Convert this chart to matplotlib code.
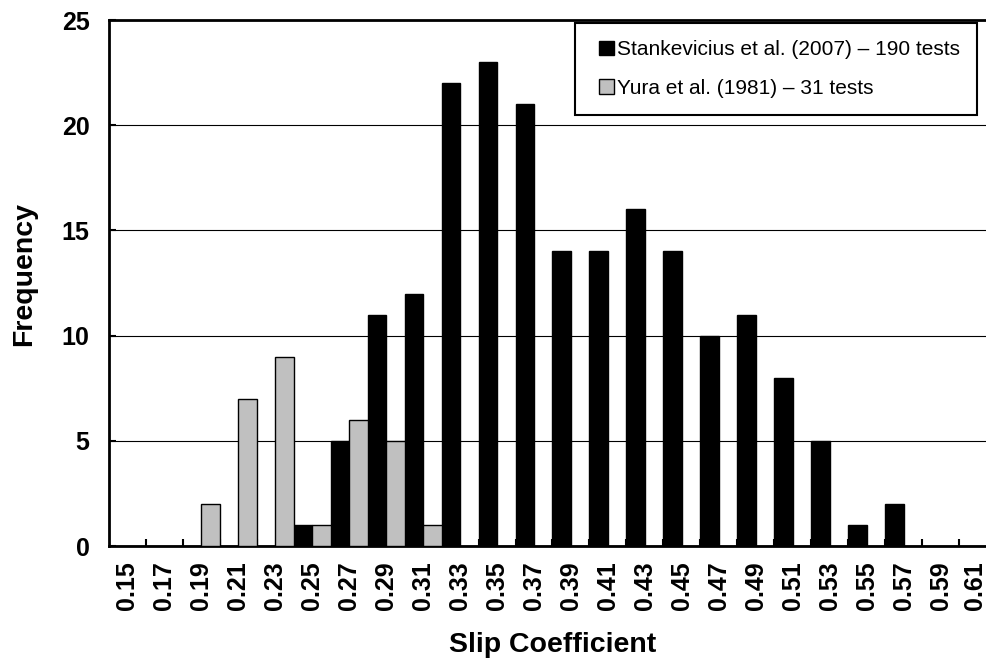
import numpy as np
import matplotlib
matplotlib.use("Agg")
import matplotlib.pyplot as plt
import matplotlib.transforms as mtransforms
from matplotlib.patches import Patch, Rectangle
from matplotlib.legend_handler import HandlerPatch

plt.rcParams.update({"font.family": ["Liberation Sans", "DejaVu Sans"]})

# slip coefficient bins
categories = ["0.15", "0.17", "0.19", "0.21", "0.23", "0.25", "0.27", "0.29",
              "0.31", "0.33", "0.35", "0.37", "0.39", "0.41", "0.43", "0.45",
              "0.47", "0.49", "0.51", "0.53", "0.55", "0.57", "0.59", "0.61"]
stank_counts = [0, 0, 0, 0, 0, 1, 5, 11, 12, 22, 23, 21, 14, 14, 16, 14,
                10, 11, 8, 5, 1, 2, 0, 0]
yura_counts = [0, 0, 2, 7, 9, 1, 6, 5, 1, 0, 0, 0, 0, 0, 0, 0,
               0, 0, 0, 0, 0, 0, 0, 0]
stank_label = "Stankevicius et al. (2007) \u2013 190 tests"
yura_label = "Yura et al. (1981) \u2013 31 tests"

fig = plt.figure(figsize=(9.87, 6.61), dpi=100)
ax = fig.add_axes([109 / 987, 1 - 546 / 661, 887 / 987, 526 / 661])

xs = np.arange(len(categories))
w = 0.5
ax.bar(xs - w / 2, stank_counts, width=w, color="black", edgecolor="black",
       linewidth=1.0, zorder=3)
ax.bar(xs + w / 2, yura_counts, width=w, color="#c0c0c0", edgecolor="black",
       linewidth=1.0, zorder=3)

ax.set_xlim(-0.5, len(categories) - 0.5)
ax.set_ylim(0, 25)
ax.set_yticks([0, 5, 10, 15, 20, 25])
ax.grid(axis="y", color="black", linewidth=0.8, zorder=1)
ax.set_axisbelow(True)

ax.set_xticks(xs)
ax.set_xticklabels(categories, rotation=90, fontsize=18, weight="bold")
ax.tick_params(axis="x", which="major", length=0, pad=11)
ax.set_xticks(xs[:-1] + 0.5, minor=True)
ax.tick_params(axis="x", which="minor", direction="in", length=5, width=1.5)
ax.tick_params(axis="y", direction="in", length=5, width=1.5, pad=14,
               labelsize=18)
for tl in ax.get_yticklabels():
    tl.set_fontweight("bold")

# last label sits at the right edge of the picture, nudge it in a little
last = ax.get_xticklabels()[-1]
last.set_transform(last.get_transform() +
                   mtransforms.ScaledTranslation(-0.03, 0, fig.dpi_scale_trans))

for s in ("left", "bottom", "top"):
    ax.spines[s].set_linewidth(2)
ax.spines["right"].set_visible(False)

ax.set_xlabel("Slip Coefficient", fontsize=20.5, weight="bold", va="center")
ax.set_ylabel("Frequency", fontsize=20.5, weight="bold", va="center")
ax.xaxis.set_label_coords(0.5, (546 - 645) / 526)
ax.yaxis.set_label_coords((24 - 109) / 887, (546 - 274) / 526)


# square legend key drawn at the right end of the handle box
def square_key(legend, orig_handle, xdescent, ydescent, width, height,
               fontsize):
    return Rectangle((width - height - xdescent, -ydescent), height, height)


handles = [Patch(facecolor="black", edgecolor="black", label=stank_label),
           Patch(facecolor="#c0c0c0", edgecolor="black", label=yura_label)]
leg = ax.legend(handles=handles, loc="upper right",
                bbox_to_anchor=(977 / 987, 1 - 23 / 661),
                bbox_transform=fig.transFigure, fontsize=15,
                handlelength=1.05, handleheight=0.7, handletextpad=0.15,
                labelspacing=0.95, borderpad=0.82, borderaxespad=0,
                fancybox=False, framealpha=1, edgecolor="black",
                handler_map={Patch: HandlerPatch(patch_func=square_key)})
leg.get_frame().set_linewidth(1.5)

fig.savefig("out.png", dpi=100)
